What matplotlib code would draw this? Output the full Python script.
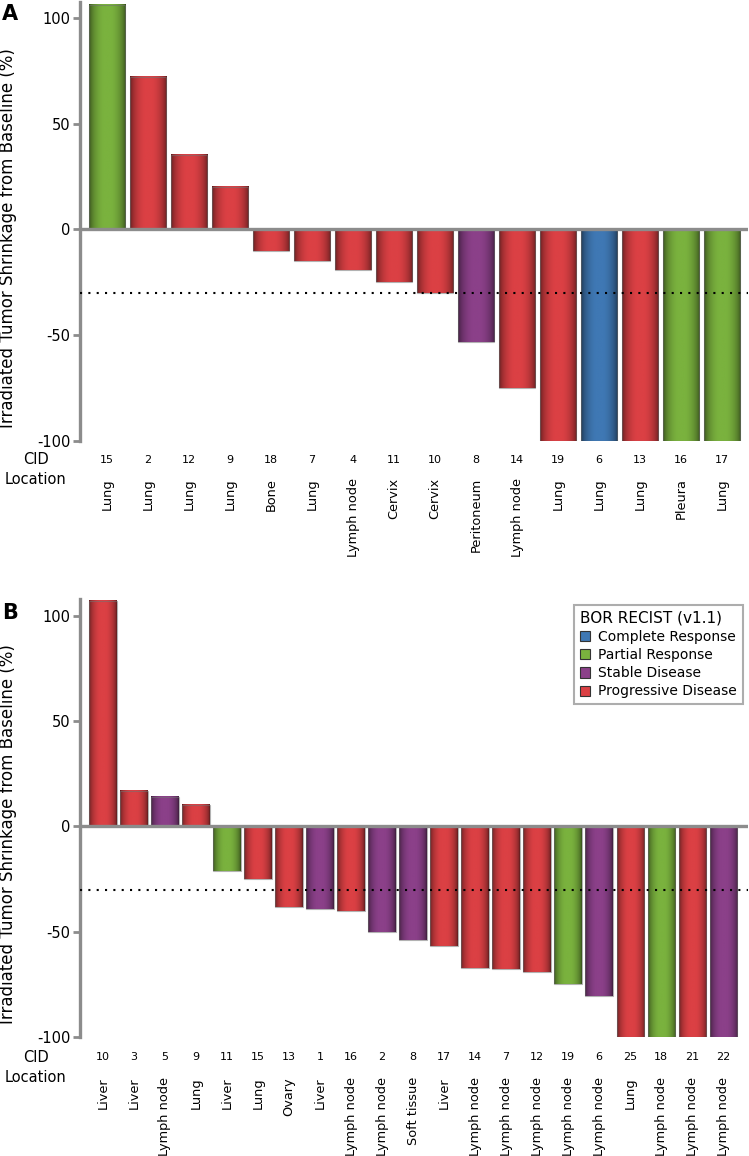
import numpy as np
import matplotlib
matplotlib.use('Agg')
import matplotlib.pyplot as plt
from matplotlib.patches import Patch
from matplotlib.colors import to_rgb
from matplotlib.transforms import blended_transform_factory

plt.rcParams['axes.unicode_minus'] = False

# Panel A data
cid_a = ['15', '2', '12', '9', '18', '7', '4', '11', '10', '8', '14', '19', '6', '13', '16', '17']
loc_a = ['Lung', 'Lung', 'Lung', 'Lung', 'Bone', 'Lung', 'Lymph node', 'Cervix', 'Cervix',
         'Peritoneum', 'Lymph node', 'Lung', 'Lung', 'Lung', 'Pleura', 'Lung']
val_a = [106, 72, 35, 20, -10, -15, -19, -25, -30, -53, -75, -100, -100, -100, -100, -100]
bor_a = ['PR', 'PD', 'PD', 'PD', 'PD', 'PD', 'PD', 'PD', 'PD', 'SD', 'PD', 'PD', 'CR', 'PD', 'PR', 'PR']

# Panel B data
cid_b = ['10', '3', '5', '9', '11', '15', '13', '1', '16', '2', '8', '17', '14', '7', '12', '19',
         '6', '25', '18', '21', '22']
loc_b = ['Liver', 'Liver', 'Lymph node', 'Lung', 'Liver', 'Lung', 'Ovary', 'Liver', 'Lymph node',
         'Lymph node', 'Soft tissue', 'Liver', 'Lymph node', 'Lymph node', 'Lymph node',
         'Lymph node', 'Lymph node', 'Lung', 'Lymph node', 'Lymph node', 'Lymph node']
val_b = [107, 17, 14, 10, -21, -25, -38.5, -39, -40, -50, -54, -57, -67, -67.5, -69, -75,
         -80.5, -100, -100, -100, -100]
bor_b = ['PD', 'PD', 'SD', 'PD', 'PR', 'PD', 'PD', 'SD', 'PD', 'SD', 'SD', 'PD', 'PD', 'PD',
         'PD', 'PR', 'SD', 'PD', 'PR', 'PD', 'SD']

bor_names = {'CR': 'Complete Response', 'PR': 'Partial Response',
             'SD': 'Stable Disease', 'PD': 'Progressive Disease'}
bor_colors = {'CR': '#3f78b4', 'PR': '#7ab23e', 'SD': '#8b4089', 'PD': '#db4044'}
threshold = -30

W, H = 749, 1156
GRAY = '#8c8c8c'
NARROW = ['DejaVu Sans Condensed', 'Liberation Sans Narrow', 'DejaVu Sans']


def fx(px):
    return px / W


def fy(py):
    return 1 - py / H


def shaded_bars(ax, vals, bors):
    x = np.arange(len(vals))
    bars = ax.bar(x, vals, width=0.88, color=[bor_colors[b] for b in bors], zorder=2)
    t = np.linspace(0, 1, 80)
    shade = 0.38 + 0.64 * np.sin(np.pi * t) ** 0.5
    shade = np.clip(shade, 0, 1.0)
    for rect, b in zip(bars, bors):
        base = np.array(to_rgb(bor_colors[b]))
        img = np.clip(base[None, None, :] * shade[None, :, None], 0, 1)
        x0, w = rect.get_x(), rect.get_width()
        y0, h = rect.get_y(), rect.get_height()
        ax.imshow(img, extent=(x0, x0 + w, min(y0, y0 + h), max(y0, y0 + h)),
                  aspect='auto', interpolation='bilinear', zorder=2.5)
    ax.bar(x, vals, width=0.88, facecolor='none', edgecolor=(0.45, 0.45, 0.45, 0.55),
           linewidth=0.8, zorder=3)
    return x


def panel(fig, rect, vals, bors, cids, locs, ylim, xlim, letter, letter_y,
          cid_y, loc_y, rot_top, ylab_y):
    ax = fig.add_axes(rect)
    x = shaded_bars(ax, vals, bors)
    ax.axhline(0, color=GRAY, lw=2.4, zorder=4)
    ax.axhline(threshold, color='black', lw=1.5, linestyle=(0, (1, 3)), zorder=5)
    ax.set_xlim(*xlim)
    ax.set_ylim(*ylim)
    for s in ['top', 'right', 'bottom']:
        ax.spines[s].set_visible(False)
    ax.spines['left'].set_color(GRAY)
    ax.spines['left'].set_linewidth(2.4)
    ax.set_xticks([])
    ax.set_yticks([-100, -50, 0, 50, 100])
    ax.tick_params(axis='y', direction='out', length=5, width=2, color=GRAY,
                   labelsize=10.5, pad=2)

    tr = blended_transform_factory(ax.transData, fig.transFigure)
    for xi, c, l in zip(x, cids, locs):
        ax.text(xi, fy(cid_y), c, transform=tr, ha='center', va='center',
                fontsize=8, family=NARROW)
        ax.text(xi, fy(rot_top), l, transform=tr, ha='center', va='top',
                rotation=90, fontsize=9.3)
    fig.text(fx(36), fy(cid_y), 'CID', ha='center', va='center', fontsize=10.5, family=NARROW)
    fig.text(fx(36), fy(loc_y), 'Location', ha='center', va='center', fontsize=10.5,
             family=NARROW)
    fig.text(fx(2), fy(letter_y), letter, ha='left', va='baseline', fontsize=15,
             fontweight='bold')
    fig.text(fx(8), fy(ylab_y), 'Irradiated Tumor Shrinkage from Baseline (%)',
             rotation=90, ha='center', va='center', fontsize=12)
    return ax


fig = plt.figure(figsize=(W / 100, H / 100), dpi=100)

ax_a = panel(fig, [fx(80), fy(441), fx(748) - fx(80), fy(2) - fy(441)],
             val_a, bor_a, cid_a, loc_a, (-100, 107.5), (-0.66, 15.63),
             'A', 20, 460, 480, 478, 238)

ax_b = panel(fig, [fx(80), fy(1037), fx(748) - fx(80), fy(599) - fy(1037)],
             val_b, bor_b, cid_b, loc_b, (-100, 108), (-0.74, 20.8),
             'B', 619, 1057, 1078, 1077, 834)

handles = [Patch(facecolor=bor_colors[k], edgecolor='#333333', linewidth=0.8, label=bor_names[k])
           for k in ['CR', 'PR', 'SD', 'PD']]
leg = fig.legend(handles=handles, title='BOR RECIST (v1.1)', loc='upper right',
                 bbox_to_anchor=(fx(743), fy(605)), frameon=True, fancybox=False,
                 fontsize=10, title_fontsize=11, handlelength=0.75, handleheight=0.75,
                 handletextpad=0.6, labelspacing=0.3, borderpad=0.42, borderaxespad=0)
leg._legend_box.align = 'left'
leg.get_frame().set_edgecolor('#999999')
leg.get_frame().set_linewidth(1.5)

fig.savefig('out.png', dpi=100)
